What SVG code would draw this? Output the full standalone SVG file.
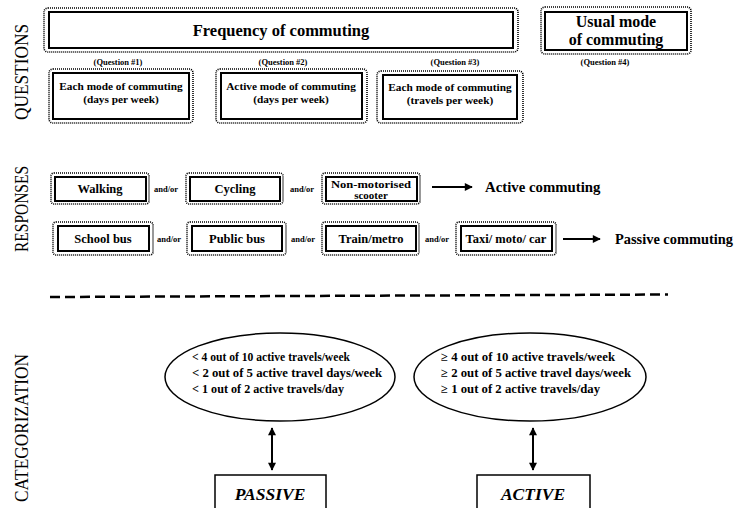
<svg xmlns="http://www.w3.org/2000/svg" width="739" height="508" viewBox="0 0 739 508">
<defs>
<style>
.t{font-family:"Liberation Serif","Times New Roman",serif;font-weight:bold;fill:#000}
.side{font-family:"Liberation Serif","Times New Roman",serif;font-size:19px;fill:#000}
.dot{fill:none;stroke:#000;stroke-width:1.6;stroke-dasharray:1 1}
.sol{fill:#fff;stroke:#000;stroke-width:2}
.q{font-size:11.3px}
.ql{font-size:8.5px}
.r{font-size:12.5px}
.ao{font-size:8.5px}
.el{font-size:12.5px}
.ln{stroke:#000;stroke-width:2;fill:none}
</style>
<marker id="ah" viewBox="0 0 10 10" refX="9" refY="5" markerWidth="4.5" markerHeight="4" orient="auto-start-reverse" markerUnits="strokeWidth">
<path d="M0,0 L10,5 L0,10 z" fill="#000"/>
</marker>
</defs>
<rect width="739" height="508" fill="#fff"/>

<g id="side-labels">
<text class="side" transform="translate(28,72) rotate(-90)" text-anchor="middle" textLength="96" lengthAdjust="spacingAndGlyphs">QUESTIONS</text>
<text class="side" transform="translate(28,209) rotate(-90)" text-anchor="middle" textLength="86" lengthAdjust="spacingAndGlyphs">RESPONSES</text>
<text class="side" transform="translate(28,428) rotate(-90)" text-anchor="middle" textLength="148" lengthAdjust="spacingAndGlyphs">CATEGORIZATION</text>
</g>

<g id="frequency">
<rect class="dot" x="44" y="8" width="474" height="44" rx="4"/>
<rect class="sol" x="49" y="12" width="464" height="36"/>
<text class="t" x="281" y="36" font-size="16.5" text-anchor="middle">Frequency of commuting</text>
</g>

<g id="usual-mode">
<rect class="dot" x="541" y="7" width="150" height="47" rx="4"/>
<rect class="sol" x="545" y="12" width="142" height="38"/>
<text class="t" x="616" y="27" font-size="16" text-anchor="middle">Usual mode</text>
<text class="t" x="616" y="45" font-size="16" text-anchor="middle">of commuting</text>
</g>

<g id="question-labels">
<text class="t ql" x="118" y="65" text-anchor="middle">(Question #1)</text>
<text class="t ql" x="283" y="65" text-anchor="middle">(Question #2)</text>
<text class="t ql" x="455" y="65" text-anchor="middle">(Question #3)</text>
<text class="t ql" x="605" y="65" text-anchor="middle">(Question #4)</text>
</g>

<g id="q1">
<rect class="dot" x="49" y="69" width="144" height="54" rx="4"/>
<rect class="sol" x="53" y="73" width="136" height="46"/>
<text class="t q" x="121" y="90" text-anchor="middle">Each mode of commuting</text>
<text class="t q" x="121" y="103" text-anchor="middle">(days per week)</text>
</g>
<g id="q2">
<rect class="dot" x="216" y="69" width="151" height="54" rx="4"/>
<rect class="sol" x="221" y="73" width="141" height="46"/>
<text class="t q" x="291" y="90" text-anchor="middle">Active mode of commuting</text>
<text class="t q" x="291" y="103" text-anchor="middle">(days per week)</text>
</g>
<g id="q3">
<rect class="dot" x="377" y="71" width="146" height="52" rx="4"/>
<rect class="sol" x="383" y="75" width="134" height="44"/>
<text class="t q" x="450" y="91" text-anchor="middle">Each mode of commuting</text>
<text class="t q" x="450" y="104" text-anchor="middle">(travels per week)</text>
</g>

<g id="walking">
<rect class="dot" x="51" y="173" width="98" height="31" rx="3"/>
<rect class="sol" x="55" y="177" width="91" height="24"/>
<text class="t r" x="100" y="193" text-anchor="middle">Walking</text>
</g>
<g id="cycling">
<rect class="dot" x="186" y="173" width="97" height="31" rx="3"/>
<rect class="sol" x="190" y="177" width="90" height="24"/>
<text class="t r" x="235" y="193" text-anchor="middle">Cycling</text>
</g>
<g id="scooter">
<rect class="dot" x="322" y="173" width="98" height="31" rx="3"/>
<rect class="sol" x="326" y="177" width="91" height="24"/>
<text class="t" x="371" y="188" font-size="11" text-anchor="middle" textLength="80" lengthAdjust="spacingAndGlyphs">Non-motorised</text>
<text class="t" x="371" y="199" font-size="11" text-anchor="middle">scooter</text>
</g>

<g id="school-bus">
<rect class="dot" x="53" y="222" width="100" height="33" rx="3"/>
<rect class="sol" x="58" y="226" width="91" height="25"/>
<text class="t r" x="103" y="243" text-anchor="middle">School bus</text>
</g>
<g id="public-bus">
<rect class="dot" x="187" y="222" width="99" height="33" rx="3"/>
<rect class="sol" x="192" y="226" width="90" height="25"/>
<text class="t r" x="237" y="243" text-anchor="middle">Public bus</text>
</g>
<g id="train">
<rect class="dot" x="322" y="222" width="97" height="33" rx="3"/>
<rect class="sol" x="326" y="226" width="90" height="25"/>
<text class="t r" x="371" y="243" text-anchor="middle">Train/metro</text>
</g>
<g id="taxi">
<rect class="dot" x="456" y="222" width="100" height="33" rx="3"/>
<rect class="sol" x="461" y="226" width="91" height="25"/>
<text class="t r" x="506" y="243" text-anchor="middle">Taxi/ moto/ car</text>
</g>

<g id="andor">
<text class="t ao" x="166" y="192" text-anchor="middle">and/or</text>
<text class="t ao" x="302" y="192" text-anchor="middle">and/or</text>
<text class="t ao" x="169" y="242" text-anchor="middle">and/or</text>
<text class="t ao" x="303" y="242" text-anchor="middle">and/or</text>
<text class="t ao" x="437" y="242" text-anchor="middle">and/or</text>
</g>

<g id="outcomes">
<text class="t" x="485" y="192" font-size="14.8">Active commuting</text>
<text class="t" x="615" y="244" font-size="14.4">Passive commuting</text>
</g>

<g id="passive-criteria">
<ellipse cx="280" cy="377" rx="115" ry="44" fill="#fff" stroke="#000" stroke-width="1.5"/>
<text class="t el" x="192" y="361" textLength="158" lengthAdjust="spacingAndGlyphs">&lt; 4 out of 10 active travels/week</text>
<text class="t el" x="192" y="377" textLength="190" lengthAdjust="spacingAndGlyphs">&lt; 2 out of 5 active travel days/week</text>
<text class="t el" x="192" y="393" textLength="152" lengthAdjust="spacingAndGlyphs">&lt; 1 out of 2 active travels/day</text>
</g>
<g id="active-criteria">
<ellipse cx="530" cy="377" rx="116" ry="44" fill="#fff" stroke="#000" stroke-width="1.5"/>
<text class="t el" x="441" y="361" textLength="174" lengthAdjust="spacingAndGlyphs">≥ 4 out of 10 active travels/week</text>
<text class="t el" x="441" y="377" textLength="190" lengthAdjust="spacingAndGlyphs">≥ 2 out of 5 active travel days/week</text>
<text class="t el" x="441" y="393" textLength="159" lengthAdjust="spacingAndGlyphs">≥ 1 out of 2 active travels/day</text>
</g>

<g id="passive">
<rect x="215" y="475" width="111" height="45" fill="#fff" stroke="#000" stroke-width="1.5"/>
<text class="t" x="270" y="500" font-size="17.5" font-style="italic" text-anchor="middle">PASSIVE</text>
</g>
<g id="active">
<rect x="477" y="475" width="113" height="45" fill="#fff" stroke="#000" stroke-width="1.5"/>
<text class="t" x="533" y="500" font-size="17.5" font-style="italic" text-anchor="middle">ACTIVE</text>
</g>

<g id="connectors">
<line class="ln" x1="432" y1="187" x2="472" y2="187" marker-end="url(#ah)"/>
<line class="ln" x1="563" y1="239" x2="600" y2="239" marker-end="url(#ah)"/>
<line class="ln" x1="272" y1="428" x2="272" y2="470" marker-start="url(#ah)" marker-end="url(#ah)"/>
<line class="ln" x1="533" y1="428" x2="533" y2="470" marker-start="url(#ah)" marker-end="url(#ah)"/>
<line x1="50" y1="297" x2="668" y2="294.5" stroke="#000" stroke-width="2.5" stroke-dasharray="10 5"/>
</g>
</svg>
